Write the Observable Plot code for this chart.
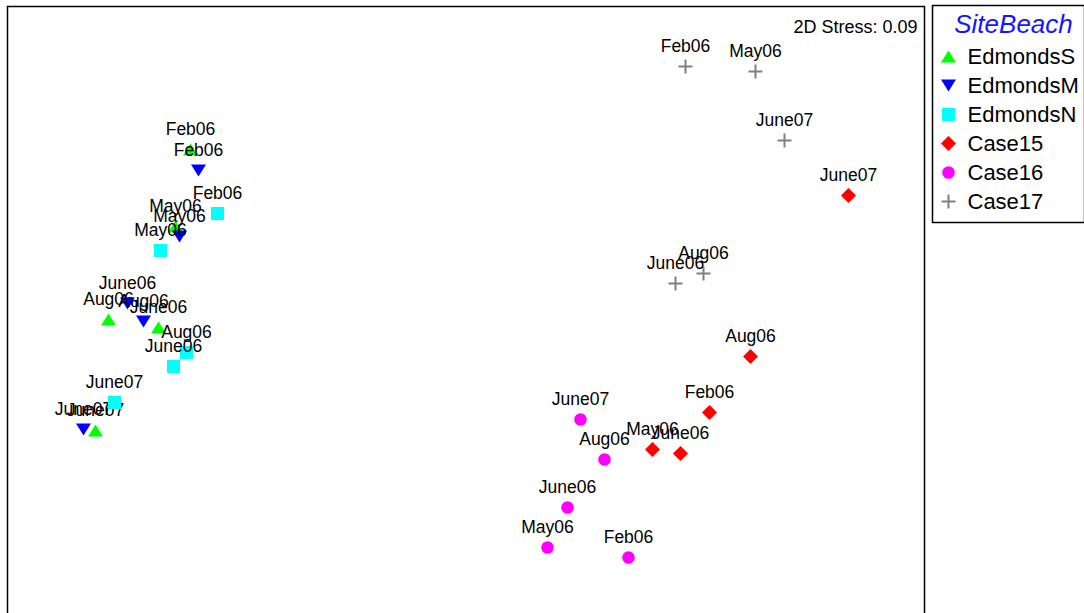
<!DOCTYPE html>
<html>
<head>
<meta charset="utf-8">
<script src="https://cdn.jsdelivr.net/npm/d3@7"></script>
<script src="https://cdn.jsdelivr.net/npm/@observablehq/plot@0.6"></script>
<style>
  html, body { margin: 0; padding: 0; background: #fff; overflow: hidden; }
  #wrap { position: relative; width: 1084px; height: 613px; }
  #legend { position: absolute; left: 932px; top: 5px; }
</style>
</head>
<body>
<div id="wrap"><div id="chart"></div><div id="legend"></div></div>
<script>
// NMDS ordination of beach samples (2D, stress 0.09)
const sites = ["EdmondsS", "EdmondsM", "EdmondsN", "Case15", "Case16", "Case17"];
const samples = ["Feb06", "May06", "June06", "Aug06", "June07"];
const stress = 0.09;

// [MDS1, MDS2] per sample, in the order of `samples`
const edmondsS = [[-1.38, 0.845], [-1.455, 0.46], [-1.54, -0.045], [-1.79, -0.005], [-1.855, -0.56]];
const edmondsM = [[-1.34, 0.74], [-1.435, 0.41], [-1.695, 0.075], [-1.615, -0.015], [-1.915, -0.555]];
const edmondsN = [[-1.245, 0.525], [-1.53, 0.34], [-1.465, -0.24], [-1.4, -0.17], [-1.76, -0.42]];
const case15 = [[1.215, -0.47], [0.93, -0.655], [1.07, -0.675], [1.42, -0.19], [1.91, 0.615]];
const case16 = [[0.81, -1.195], [0.405, -1.145], [0.505, -0.945], [0.69, -0.705], [0.57, -0.505]];
const case17 = [[1.095, 1.26], [1.445, 1.235], [1.045, 0.175], [1.185, 0.225], [1.59, 0.89]];

const coords = [edmondsS, edmondsM, edmondsN, case15, case16, case17];
const colors = ["#00ff00", "#0000ff", "#00ffff", "#ff0000", "#ff00ff", "#808080"];

// Fixed-size glyphs in the style of the ordination software
const triUp = {draw(c) { c.moveTo(0, -6); c.lineTo(7.5, 6); c.lineTo(-7.5, 6); c.closePath(); }};
const triDown = {draw(c) { c.moveTo(-7.5, -6); c.lineTo(7.5, -6); c.lineTo(0, 6); c.closePath(); }};
const square = {draw(c) { c.moveTo(-6.5, -6.5); c.lineTo(6.5, -6.5); c.lineTo(6.5, 6.5); c.lineTo(-6.5, 6.5); c.closePath(); }};
const diamond = {draw(c) { c.moveTo(0, -7.5); c.lineTo(7.5, 0); c.lineTo(0, 7.5); c.lineTo(-7.5, 0); c.closePath(); }};
const circle = {draw(c) { c.moveTo(6.3, 0); c.arc(0, 0, 6.3, 0, 2 * Math.PI); c.closePath(); }};
const plus = {draw(c) { c.moveTo(-7, 0); c.lineTo(7, 0); c.moveTo(0, -7); c.lineTo(0, 7); }};
const shapes = [triUp, triDown, square, diamond, circle, plus];
const stroked = [false, false, false, false, false, true];

const rows = sites.flatMap((site, i) =>
  coords[i].map(([x, y], j) => ({site, sample: samples[j], x, y}))
);

const font = "Arial, 'Liberation Sans', Helvetica, sans-serif";

// Each site draws its symbols and then its labels, site by site
const siteMarks = sites.flatMap((site, i) => {
  const data = rows.filter(d => d.site === site);
  return [
    Plot.dot(data, {
      x: "x", y: "y", symbol: () => shapes[i],
      fill: stroked[i] ? "none" : colors[i],
      stroke: stroked[i] ? colors[i] : "none",
      strokeWidth: 2
    }),
    Plot.text(data, {
      x: "x", y: "y", text: "sample", textAnchor: "middle",
      lineAnchor: "bottom", dy: -15, fontSize: 17.5, fill: "black"
    })
  ];
});

const chart = Plot.plot({
  width: 1084,
  height: 640,
  marginLeft: 7,
  marginRight: 160,
  marginTop: 6,
  marginBottom: 10,
  style: {fontFamily: font, background: "white", overflow: "visible"},
  x: {domain: [-2.295, 2.29], axis: null},
  y: {domain: [-1.56, 1.56], axis: null},
  marks: [
    ...siteMarks,
    Plot.text([`2D Stress: ${stress.toFixed(2)}`], {
      frameAnchor: "top-right", textAnchor: "end", lineAnchor: "bottom",
      dx: -7, dy: 26, fontSize: 18, fill: "black"
    }),
    Plot.frame({stroke: "black", strokeWidth: 1.5})
  ]
});
document.getElementById("chart").append(chart);

// Legend panel: one row per site
const legend = Plot.plot({
  width: 152,
  height: 217,
  margin: 0,
  style: {fontFamily: font, background: "white", overflow: "visible"},
  x: {axis: null},
  y: {type: "point", domain: sites, range: [50, 197], padding: 0, axis: null},
  marks: [
    Plot.text(["SiteBeach"], {
      frameAnchor: "top", lineAnchor: "bottom", dx: 5, dy: 27,
      fontSize: 26, fontStyle: "italic", fill: "#1515ff"
    }),
    Plot.dot(sites, {
      y: d => d, frameAnchor: "left", dx: 16,
      symbol: d => shapes[sites.indexOf(d)],
      fill: d => stroked[sites.indexOf(d)] ? "none" : colors[sites.indexOf(d)],
      stroke: d => stroked[sites.indexOf(d)] ? colors[sites.indexOf(d)] : "none",
      strokeWidth: 2
    }),
    Plot.text(sites, {
      y: d => d, text: d => d, frameAnchor: "left", textAnchor: "start",
      dx: 35, fontSize: 22, fill: "black"
    }),
    Plot.frame({stroke: "black", strokeWidth: 1.5})
  ]
});
document.getElementById("legend").append(legend);
</script>
</body>
</html>
